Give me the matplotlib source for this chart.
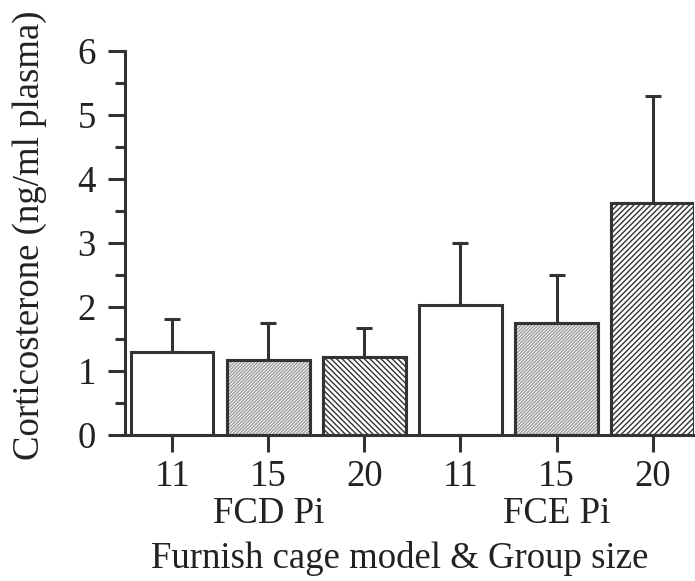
import matplotlib
matplotlib.use("Agg")
import matplotlib.pyplot as plt
import matplotlib.transforms as mtransforms
import numpy as np

groups = ["FCD Pi", "FCE Pi"]
tick_labels = ["11", "15", "20", "11", "15", "20"]
means = [1.30, 1.17, 1.22, 2.03, 1.75, 3.63]
errors = [0.52, 0.58, 0.45, 0.97, 0.75, 1.67]
hatches = ["", "//////////", "\\\\\\\\\\\\", "", "//////////", "//////"]
hatch_colors = ["#333333", "#9a9a9a", "#333333", "#333333", "#9a9a9a", "#333333"]

plt.rcParams["font.family"] = ["Liberation Serif", "DejaVu Serif"]
plt.rcParams["hatch.linewidth"] = 1.0
ink = "#333333"
txt = "#222222"
fs = 26.5

fig = plt.figure(figsize=(6.95, 5.81), dpi=100)
ax = fig.add_axes([125/695, 1-435/581, (694-125)/695, (435-51)/581])

x = np.arange(len(means))
for i in range(len(means)):
    ax.bar(x[i], means[i], width=0.86, facecolor="white", edgecolor=ink,
           linewidth=2.2, zorder=2)
    if hatches[i]:
        ax.bar(x[i], means[i], width=0.86, facecolor="none", edgecolor=hatch_colors[i],
               linewidth=0, hatch=hatches[i], zorder=2)
        ax.bar(x[i], means[i], width=0.86, facecolor="none", edgecolor=ink,
               linewidth=2.2, zorder=3)
ax.errorbar(x, means, yerr=[np.zeros(len(errors)), errors], fmt="none",
            ecolor=ink, elinewidth=2.2, capsize=6, capthick=2.2, zorder=1)

ax.set_xlim(-0.49, 5.43)
ax.set_ylim(0, 6)
ax.set_yticks(range(0, 7))
ax.set_yticks(np.arange(0.5, 6, 1), minor=True)
ax.set_xticks(x)
ax.set_xticklabels(tick_labels)
for s in ["top", "right"]:
    ax.spines[s].set_visible(False)
for s in ["left", "bottom"]:
    ax.spines[s].set_linewidth(2.2)
    ax.spines[s].set_color(ink)
ax.tick_params(axis="both", which="major", length=12, width=2.2, color=ink,
               labelsize=fs, labelcolor=txt)
ax.tick_params(axis="y", which="minor", length=7, width=2.2, color=ink)
ax.tick_params(axis="x", pad=6)
ax.tick_params(axis="y", pad=9)

tr = mtransforms.blended_transform_factory(ax.transData, fig.transFigure)
for gi, g in enumerate(groups):
    ax.text(1 + 3*gi, 1-523/581, g, ha="center", va="baseline", fontsize=fs,
            color=txt, transform=tr, clip_on=False)
fig.text(400/695, 1-568/581, "Furnish cage model & Group size", ha="center",
         va="baseline", fontsize=fs, color=txt)
fig.text(30/695, 1-235/581, "Corticosterone (ng/ml plasma)", ha="center",
         va="center", rotation=90, fontsize=fs, color=txt)

fig.savefig("out.png", dpi=100)
